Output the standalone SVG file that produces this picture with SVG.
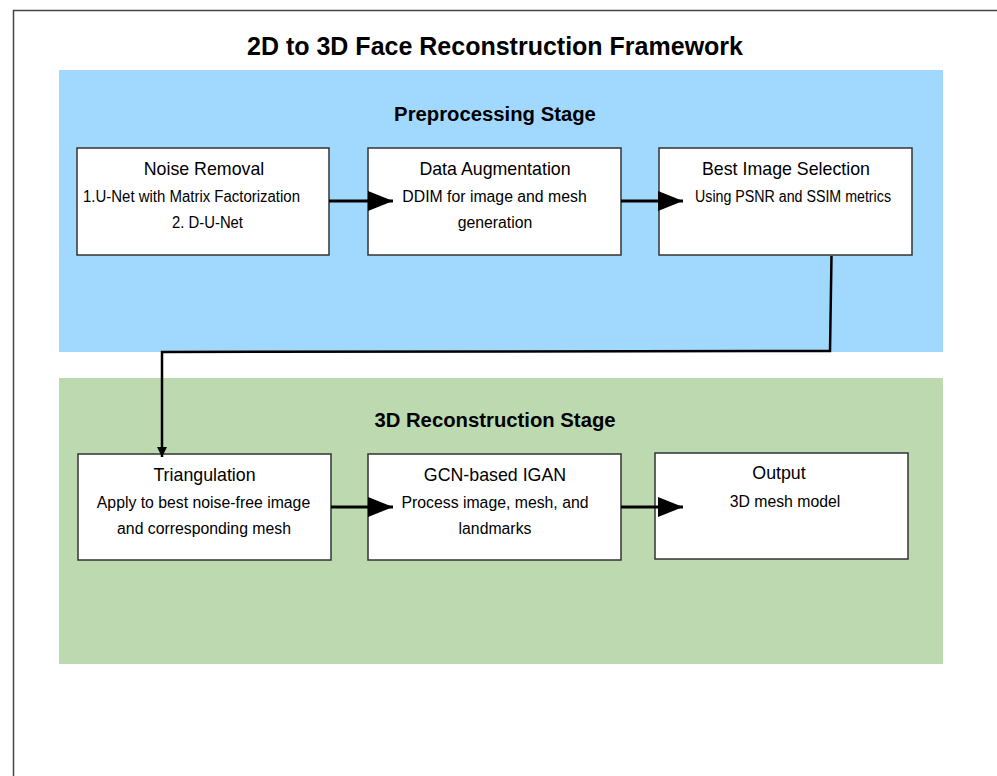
<svg xmlns="http://www.w3.org/2000/svg" width="997" height="776" viewBox="0 0 997 776">
<style>
.t{font-family:"Liberation Sans",Arial,sans-serif;fill:#000;text-anchor:middle}
.title{font-size:25px;font-weight:bold}
.stage{font-size:20.3px;font-weight:bold}
.nh{font-size:17.8px}
.ns{font-size:15.8px}
.box{fill:#fff;stroke:#333;stroke-width:1.5}
.conn{fill:none;stroke:#000;stroke-width:3}
</style>
<defs>
<marker id="big" viewBox="0 0 25 20" refX="25" refY="10" markerWidth="25" markerHeight="20" markerUnits="userSpaceOnUse" orient="auto">
<path d="M0,0 L25,10 L0,20 Z" fill="#000"/>
</marker>
<marker id="small" viewBox="0 0 10 10" refX="10" refY="5" markerWidth="10" markerHeight="10" markerUnits="userSpaceOnUse" orient="auto">
<path d="M0,0 L10,5 L0,10 Z" fill="#000"/>
</marker>
</defs>
<rect x="0" y="0" width="997" height="776" fill="#fff"/>
<path d="M13.5,800 L13.5,10.5 L1000,10.5" fill="none" stroke="#444" stroke-width="1.5"/>
<text class="t title" x="495" y="55">2D to 3D Face Reconstruction Framework</text>
<g id="stage1">
<rect x="59" y="70" width="884" height="282" fill="#a0d8fe"/>
<text class="t stage" x="495" y="121">Preprocessing Stage</text>
</g>
<g id="stage2">
<rect x="59" y="378" width="884" height="286" fill="#bdd9b0"/>
<text class="t stage" x="495" y="427">3D Reconstruction Stage</text>
</g>
<g id="noise">
<rect class="box" x="77" y="148" width="252" height="107"/>
<text class="t nh" x="204" y="175">Noise Removal</text>
<text class="t ns" x="191.5" y="202" textLength="217" lengthAdjust="spacingAndGlyphs">1.U-Net with Matrix Factorization</text>
<text class="t ns" x="207.5" y="228" textLength="71" lengthAdjust="spacingAndGlyphs">2. D-U-Net</text>
</g>
<g id="augment">
<rect class="box" x="368" y="148" width="253" height="107"/>
<text class="t nh" x="495" y="175">Data Augmentation</text>
<text class="t ns" x="494.5" y="202">DDIM for image and mesh</text>
<text class="t ns" x="495" y="228">generation</text>
</g>
<g id="best">
<rect class="box" x="659" y="148" width="253" height="107"/>
<text class="t nh" x="786" y="175">Best Image Selection</text>
<text class="t ns" x="793" y="202" textLength="196" lengthAdjust="spacingAndGlyphs">Using PSNR and SSIM metrics</text>
</g>
<g id="triang">
<rect class="box" x="78" y="454" width="253" height="106"/>
<text class="t nh" x="204.5" y="481">Triangulation</text>
<text class="t ns" x="203.5" y="508">Apply to best noise-free image</text>
<text class="t ns" x="204" y="534">and corresponding mesh</text>
</g>
<g id="gcn">
<rect class="box" x="368" y="454" width="253" height="106"/>
<text class="t nh" x="495" y="481">GCN-based IGAN</text>
<text class="t ns" x="495" y="508">Process image, mesh, and</text>
<text class="t ns" x="495" y="534">landmarks</text>
</g>
<g id="output">
<rect class="box" x="655" y="453" width="253" height="106"/>
<text class="t nh" x="779" y="479">Output</text>
<text class="t ns" x="785" y="507">3D mesh model</text>
</g>
<g id="connectors">
<path class="conn" d="M329,201 L393,201" marker-end="url(#big)"/>
<path class="conn" d="M621,201 L683,201" marker-end="url(#big)"/>
<path class="conn" d="M331,507 L393,507" marker-end="url(#big)"/>
<path class="conn" d="M621,507 L683,507" marker-end="url(#big)"/>
<path class="conn" style="stroke-width:2.5" d="M831.5,256 L830,351 L162,352 L162,457" marker-end="url(#small)"/>
</g>
</svg>
